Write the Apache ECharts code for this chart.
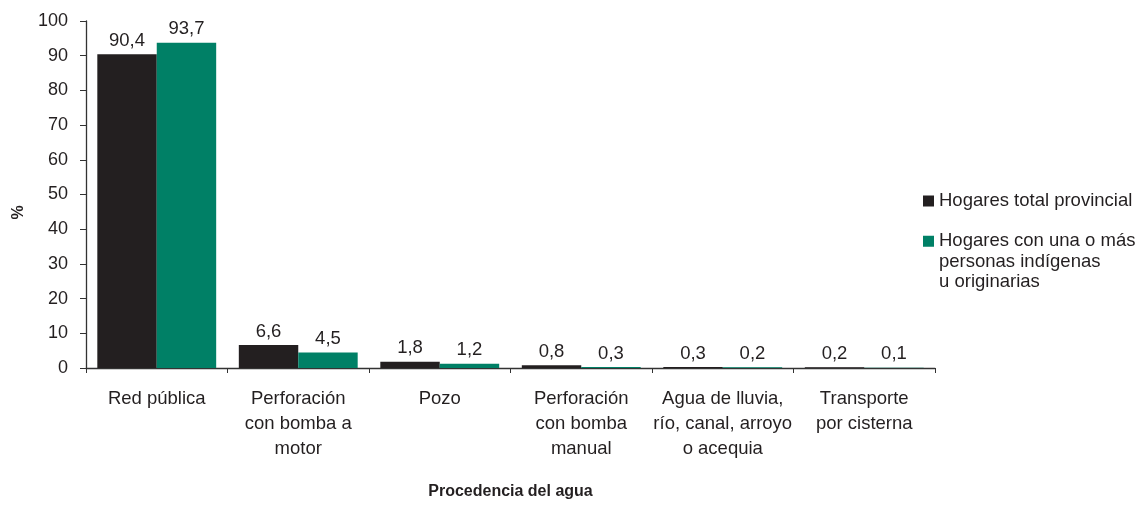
<!DOCTYPE html>
<html>
<head>
<meta charset="utf-8">
<script src="https://cdn.jsdelivr.net/npm/echarts@6/dist/echarts.min.js"></script>
<style>html,body{margin:0;padding:0;background:#fff}#c{width:1139px;height:505px}</style>
</head>
<body>
<div id="c"></div>
<script>
const categories = ['Red pública', 'Perforación\ncon bomba a\nmotor', 'Pozo', 'Perforación\ncon bomba\nmanual', 'Agua de lluvia,\nrío, canal, arroyo\no acequia', 'Transporte\npor cisterna'];
const seriesNames = ['Hogares total provincial', 'Hogares con una o más\npersonas indígenas\nu originarias'];
const totalProvincial = [90.4, 6.6, 1.8, 0.8, 0.3, 0.2];
const indigenas = [93.7, 4.5, 1.2, 0.3, 0.2, 0.1];
const yTicks = [0, 10, 20, 30, 40, 50, 60, 70, 80, 90, 100];

const FONT = "'Liberation Sans', Arial, Helvetica, sans-serif";
const TXT = '#231f20';
const colors = ['#231f20', '#008066'];
const fmt = p => String(p.value).replace('.', ',');

const chart = echarts.init(document.getElementById('c'), null, {renderer: 'canvas'});
chart.setOption({
  animation: false,
  textStyle: {fontFamily: FONT, color: TXT},
  grid: {left: 86, right: 204, top: 21, bottom: 137, containLabel: false},
  legend: [
    {
      data: [seriesNames[0]], orient: 'vertical', left: 923, top: 191, padding: 0,
      icon: 'rect', itemWidth: 11, itemHeight: 11, itemGap: 0,
      textStyle: {fontFamily: FONT, fontSize: 18.5, color: TXT, lineHeight: 20}
    },
    {
      data: [seriesNames[1]], orient: 'vertical', left: 923, top: 190, padding: 0,
      icon: 'rect', itemWidth: 11, itemHeight: 11, itemGap: 0,
      formatter: name => '\n\n' + name,
      textStyle: {fontFamily: FONT, fontSize: 18.5, color: TXT, lineHeight: 20.5}
    }
  ],
  xAxis: {
    type: 'category', data: categories,
    name: 'Procedencia del agua', nameLocation: 'middle', nameGap: 116,
    nameTextStyle: {fontFamily: FONT, fontSize: 16, fontWeight: 'bold', color: TXT},
    axisLine: {lineStyle: {color: '#333', width: 1.3}},
    axisTick: {show: true, length: 5, lineStyle: {color: '#333'}},
    axisLabel: {interval: 0, margin: 18, fontSize: 18.5, lineHeight: 25, color: TXT, fontFamily: FONT}
  },
  yAxis: {
    type: 'value', min: yTicks[0], max: yTicks[yTicks.length - 1], interval: 10,
    name: '%', nameLocation: 'middle', nameGap: 57, nameRotate: 90,
    nameTextStyle: {fontFamily: FONT, fontSize: 16, fontWeight: 'bold', color: TXT, padding: [0, 36, 0, 0]},
    axisLine: {show: true, lineStyle: {color: '#333', width: 1.3}},
    axisTick: {show: true, length: 6, lineStyle: {color: '#333'}},
    splitLine: {show: false},
    axisLabel: {fontSize: 18, color: TXT, margin: 18, fontFamily: FONT}
  },
  series: [
    {
      name: seriesNames[0], type: 'bar', data: totalProvincial, barGap: '0%', barCategoryGap: '16%',
      itemStyle: {color: colors[0]},
      label: {show: true, position: 'top', distance: 4, formatter: fmt, fontSize: 18.5, color: TXT, fontFamily: FONT}
    },
    {
      name: seriesNames[1], type: 'bar', data: indigenas, barGap: '0%', barCategoryGap: '16%',
      itemStyle: {color: colors[1]},
      label: {show: true, position: 'top', distance: 4, formatter: fmt, fontSize: 18.5, color: TXT, fontFamily: FONT}
    }
  ]
});
</script>
</body>
</html>
